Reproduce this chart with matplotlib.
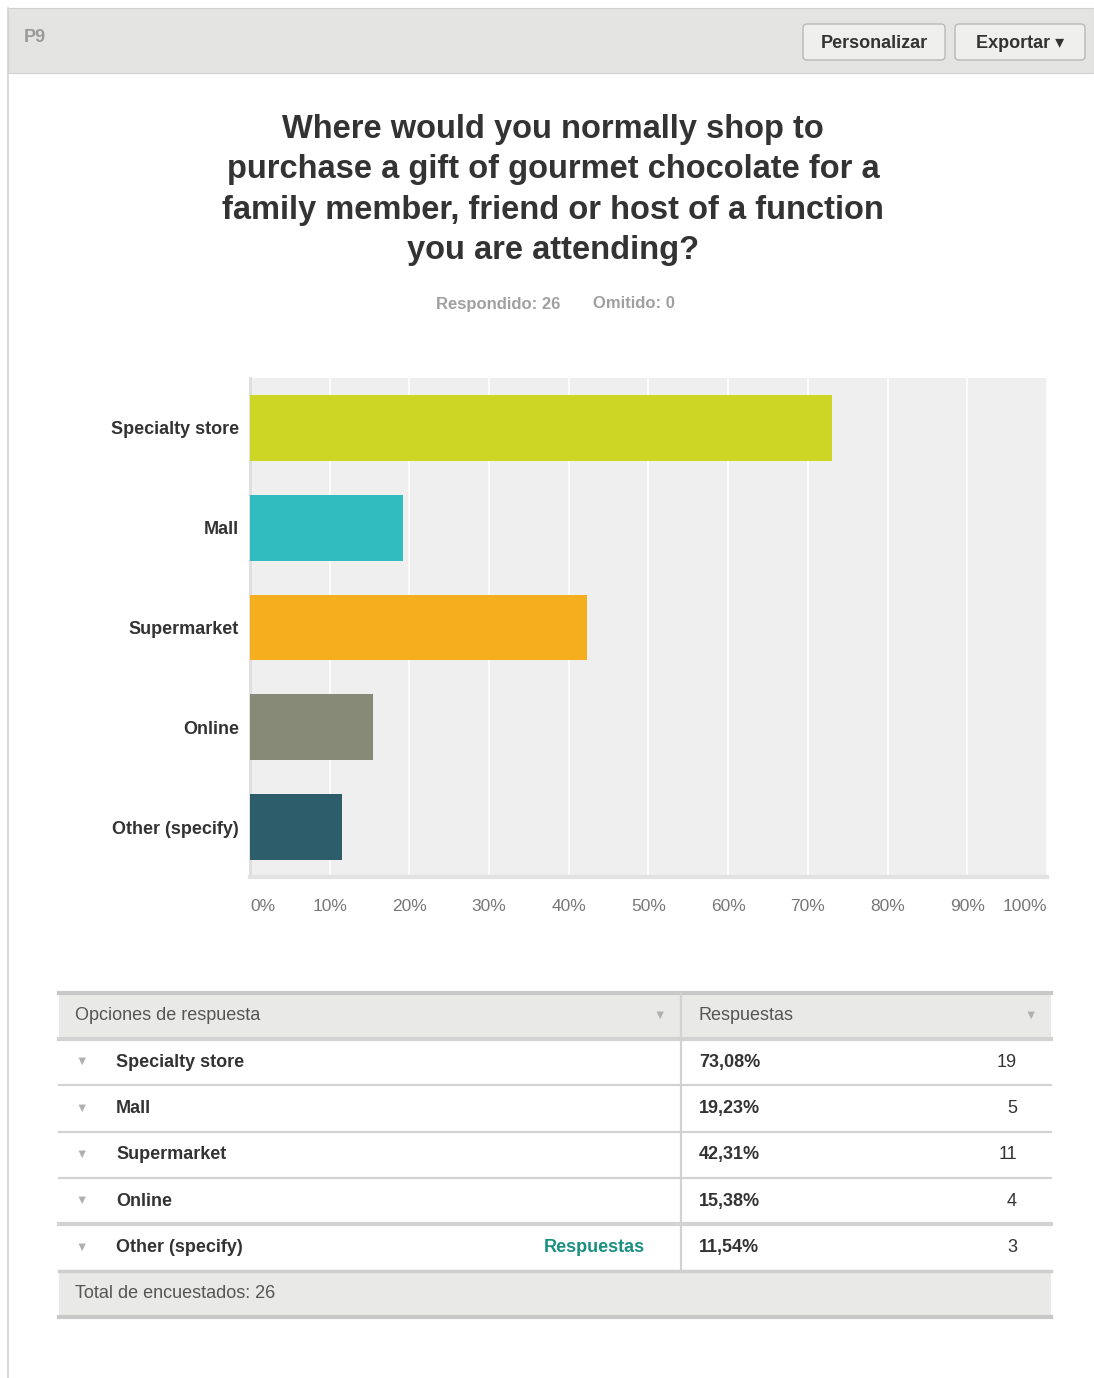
import matplotlib.pyplot as plt
from matplotlib.patches import Rectangle, FancyBboxPatch

plt.rcParams['font.family'] = ['Liberation Sans', 'DejaVu Sans']

# data
categories = ["Specialty store", "Mall", "Supermarket", "Online", "Other (specify)"]
percents = [73.08, 19.23, 42.31, 15.38, 11.54]
counts = [19, 5, 11, 4, 3]
pct_labels = ["73,08%", "19,23%", "42,31%", "15,38%", "11,54%"]
bar_colors = ["#cdd525", "#31bdbf", "#f5ae1e", "#878a77", "#2d5d6a"]
xticks = [0, 10, 20, 30, 40, 50, 60, 70, 80, 90, 100]
xtick_labels = [f"{t}%" for t in xticks]
title = ("Where would you normally shop to\n"
         "purchase a gift of gourmet chocolate for a\n"
         "family member, friend or host of a function\n"
         "you are attending?")
answered, skipped = 26, 0
total = 26

W, H = 1094, 1378
fig = plt.figure(figsize=(W / 100, H / 100), dpi=100)

# pixel-coordinate overlay for page elements
bg = fig.add_axes([0, 0, 1, 1])
bg.set_xlim(0, W)
bg.set_ylim(H, 0)
bg.axis('off')

# panel border + header
bg.plot([8, 8], [8, H], color="#d4d4d4", lw=1.2)
bg.add_patch(Rectangle((8, 8), W - 8, 65, facecolor="#e4e4e3", edgecolor="#d0d0d0", lw=0.8))
bg.text(24, 38, "P9", fontsize=13, fontweight='bold', color="#9a9a9a", va='center')
for x0, w, lab in [(803, 142, "Personalizar"), (955, 130, "Exportar \u25be")]:
    bg.add_patch(FancyBboxPatch((x0, 24), w, 36, boxstyle="round,pad=0,rounding_size=4",
                                facecolor="#efefee", edgecolor="#b8b8b8", lw=1))
    bg.text(x0 + w / 2, 43, lab, fontsize=13, fontweight='bold', color="#333333",
            ha='center', va='center')

# title
bg.text(553, 190, title, fontsize=23.5, fontweight='bold', color="#333333",
        ha='center', va='center', linespacing=1.4)
bg.text(498, 304, f"Respondido: {answered}", fontsize=12, fontweight='bold',
        color="#a0a0a0", ha='center', va='center')
bg.text(634, 304, f"Omitido: {skipped}", fontsize=12, fontweight='bold',
        color="#a0a0a0", ha='center', va='center')

# bar chart
ax = fig.add_axes([250 / W, 1 - 877 / H, (1047 - 250) / W, (877 - 378) / H])
ax.set_facecolor("#efefef")
y = list(range(len(categories)))
ax.barh(y, percents, height=0.66, color=bar_colors, zorder=3)
ax.set_xlim(0, 100)
ax.set_ylim(len(categories) - 0.5, -0.5)
ax.set_yticks(y)
ax.set_yticklabels(categories, fontsize=13, fontweight='bold', color="#333333")
ax.set_xticks(xticks)
ax.set_xticklabels(xtick_labels, fontsize=12.5, color="#777777")
labels = ax.get_xticklabels()
labels[0].set_ha('left')
labels[-1].set_ha('right')
ax.tick_params(axis='x', length=0, pad=16)
ax.tick_params(axis='y', length=0, pad=8)
ax.grid(axis='x', color="white", lw=1.2, zorder=1)
for s in ['top', 'right']:
    ax.spines[s].set_visible(False)
ax.spines['left'].set_color("#dedede")
ax.spines['left'].set_linewidth(2)
ax.spines['bottom'].set_color("#e2e2e2")
ax.spines['bottom'].set_linewidth(3)

# table
tx0, tx1, tdiv = 59, 1051, 681
bg.add_patch(Rectangle((tx0, 993), tx1 - tx0, 46, facecolor="#e9e9e8", edgecolor='none'))
bg.plot([tx0, tx1], [993, 993], color="#c8c8c8", lw=3)
bg.text(75, 1016, "Opciones de respuesta", fontsize=13, color="#555555", va='center')
bg.text(699, 1016, "Respuestas", fontsize=13, color="#555555", va='center')
for tx in [660, 1031]:
    bg.text(tx, 1016, "\u25bc", fontsize=9, color="#b0b0b0", ha='center', va='center')

row_top = 1039
row_h = 46.3
for i, (cat, pl, c) in enumerate(zip(categories, pct_labels, counts)):
    yc = row_top + row_h * (i + 0.5)
    bg.text(82, yc, "\u25bc", fontsize=9, color="#b0b0b0", ha='center', va='center')
    bg.text(116, yc, cat, fontsize=13, fontweight='bold', color="#333333", va='center')
    bg.text(699, yc, pl, fontsize=13, fontweight='bold', color="#333333", va='center')
    bg.text(1017, yc, str(c), fontsize=13, color="#333333", ha='right', va='center')
    yl = row_top + row_h * i
    bg.plot([tx0, tx1], [yl, yl], color="#d2d2d2", lw=3 if i in (0, 4) else 1.6)
bg.text(645, row_top + row_h * 4.5, "Respuestas", fontsize=13, fontweight='bold',
        color="#1a9080", ha='right', va='center')
yend = row_top + row_h * 5
bg.plot([tdiv, tdiv], [993, yend], color="#d2d2d2", lw=1.6)
bg.add_patch(Rectangle((tx0, yend), tx1 - tx0, 46, facecolor="#e9e9e8", edgecolor='none'))
bg.plot([tx0, tx1], [yend, yend], color="#cfcfcf", lw=2.5)
bg.plot([tx0, tx1], [yend + 46, yend + 46], color="#c8c8c8", lw=3)
bg.text(75, yend + 23, f"Total de encuestados: {total}", fontsize=13, color="#555555", va='center')

fig.savefig("out.png", dpi=100)
plt.close(fig)
